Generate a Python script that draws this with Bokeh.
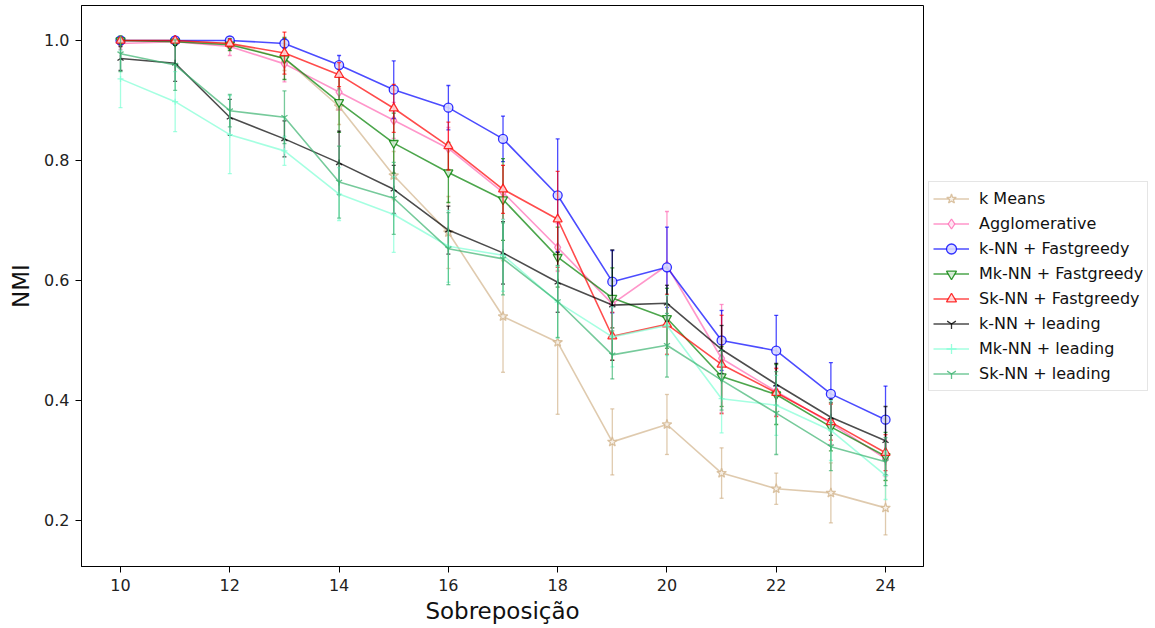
import math
from bokeh.plotting import figure
from bokeh.models import Range1d, FixedTicker, PrintfTickFormatter, Legend, LegendItem
from bokeh.embed import file_html
from bokeh.resources import INLINE

# ---------------- data ----------------
overlap = [10, 11, 12, 13, 14, 15, 16, 17, 18, 19, 20, 21, 22, 23, 24]

kmeans = [1.0, 1.0, 0.995, 0.97, 0.89, 0.775, 0.68, 0.54, 0.497, 0.331, 0.36, 0.279, 0.253, 0.246, 0.221]
kmeans_err = [0.0, 0.003, 0.008, 0.02, 0.03, 0.04, 0.06, 0.093, 0.12, 0.055, 0.05, 0.042, 0.026, 0.05, 0.045]

agglo = [0.995, 0.998, 0.99, 0.961, 0.914, 0.867, 0.82, 0.747, 0.655, 0.561, 0.625, 0.47, 0.415, 0.362, 0.303]
agglo_err = [0.01, 0.005, 0.015, 0.03, 0.03, 0.03, 0.035, 0.045, 0.04, 0.04, 0.09, 0.09, 0.04, 0.035, 0.03]

knn_fg = [1.0, 1.0, 1.0, 0.995, 0.959, 0.918, 0.888, 0.836, 0.742, 0.598, 0.622, 0.50, 0.483, 0.411, 0.368]
knn_fg_err = [0.002, 0.002, 0.003, 0.008, 0.016, 0.048, 0.037, 0.038, 0.094, 0.052, 0.067, 0.05, 0.059, 0.052, 0.056]

mknn_fg = [1.0, 0.998, 0.993, 0.97, 0.897, 0.829, 0.78, 0.735, 0.639, 0.571, 0.537, 0.44, 0.41, 0.356, 0.307]
mknn_fg_err = [0.003, 0.005, 0.01, 0.035, 0.05, 0.05, 0.05, 0.068, 0.05, 0.05, 0.05, 0.05, 0.05, 0.04, 0.04]

sknn_fg = [1.0, 1.0, 0.995, 0.979, 0.943, 0.887, 0.824, 0.752, 0.702, 0.507, 0.527, 0.46, 0.413, 0.364, 0.313]
sknn_fg_err = [0.002, 0.003, 0.006, 0.035, 0.02, 0.04, 0.04, 0.04, 0.08, 0.04, 0.05, 0.082, 0.04, 0.03, 0.03]

knn_lead = [0.97, 0.962, 0.872, 0.836, 0.796, 0.752, 0.684, 0.646, 0.597, 0.559, 0.562, 0.485, 0.427, 0.372, 0.333]
knn_lead_err = [0.02, 0.03, 0.03, 0.03, 0.053, 0.04, 0.04, 0.052, 0.05, 0.092, 0.03, 0.04, 0.035, 0.03, 0.057]

mknn_lead = [0.936, 0.898, 0.843, 0.816, 0.744, 0.71, 0.657, 0.642, 0.564, 0.506, 0.525, 0.403, 0.392, 0.35, 0.275]
mknn_lead_err = [0.048, 0.05, 0.065, 0.024, 0.044, 0.063, 0.06, 0.06, 0.06, 0.05, 0.05, 0.057, 0.05, 0.05, 0.04]

sknn_lead = [0.978, 0.959, 0.883, 0.872, 0.764, 0.737, 0.653, 0.636, 0.565, 0.476, 0.492, 0.434, 0.379, 0.323, 0.298]
sknn_lead_err = [0.03, 0.042, 0.027, 0.044, 0.06, 0.06, 0.06, 0.06, 0.06, 0.04, 0.053, 0.05, 0.069, 0.04, 0.04]

labels = ["k Means", "Agglomerative", "k-NN + Fastgreedy", "Mk-NN + Fastgreedy",
          "Sk-NN + Fastgreedy", "k-NN + leading", "Mk-NN + leading", "Sk-NN + leading"]
values = [kmeans, agglo, knn_fg, mknn_fg, sknn_fg, knn_lead, mknn_lead, sknn_lead]
errors = [kmeans_err, agglo_err, knn_fg_err, mknn_fg_err, sknn_fg_err, knn_lead_err, mknn_lead_err, sknn_lead_err]

x_ticks = [10, 12, 14, 16, 18, 20, 22, 24]
y_ticks = [0.2, 0.4, 0.6, 0.8, 1.0]

# ---------------- styles ----------------
colors = ["#d2b48c", "#ff69b4", "#0000ff", "#008000", "#ff0000", "#000000", "#7fffd4", "#3cb371"]
markers = ["star", "diamond", "circle", "inverted_triangle", "triangle", "y", "cross", "y"]
msizes = [10, 9, 9, 9, 9, 7, 6, 7]
mangles = [0, 0, 0, 0, 0, math.pi, 0, 0]
ALPHA = 0.7
FONT = "DejaVu Sans"


def tint(hexcol, f=0.15):
    h = hexcol.lstrip("#")
    r, g, b = int(h[0:2], 16), int(h[2:4], 16), int(h[4:6], 16)
    r = round(255 - (255 - r) * f)
    g = round(255 - (255 - g) * f)
    b = round(255 - (255 - b) * f)
    return "#%02x%02x%02x" % (r, g, b)


p = figure(frame_width=842, frame_height=561,
           min_border_left=81, min_border_right=232, min_border_top=5, min_border_bottom=62,
           x_range=Range1d(9.286, 24.695), y_range=Range1d(0.1233, 1.0583),
           output_backend="svg", toolbar_location=None)

p.xgrid.visible = False
p.ygrid.visible = False
p.outline_line_color = "black"
p.outline_line_width = 1
p.outline_line_alpha = 1
p.background_fill_color = "white"
p.border_fill_color = "white"

p.xaxis.ticker = FixedTicker(ticks=x_ticks)
p.yaxis.ticker = FixedTicker(ticks=y_ticks)
p.xaxis.formatter = PrintfTickFormatter(format="%d")
p.yaxis.formatter = PrintfTickFormatter(format="%.1f")
for ax in (p.xaxis, p.yaxis):
    ax.major_label_text_font = FONT
    ax.major_label_text_font_size = "16px"
    ax.major_label_text_color = "#222222"
    ax.axis_label_text_font = FONT
    ax.axis_label_text_font_style = "normal"
    ax.axis_label_text_font_size = "23px"
    ax.axis_label_text_color = "#111111"
    ax.axis_line_color = "black"
    ax.major_tick_line_color = "black"
    ax.major_tick_out = 6
    ax.major_tick_in = 0
    ax.minor_tick_line_color = None
    ax.major_label_standoff = 6
p.xaxis.axis_label = "Sobreposição"
p.yaxis.axis_label = "NMI"
p.xaxis.axis_label_standoff = 4
p.yaxis.axis_label_standoff = 7

items = []
for lab, ys, es, col, mk, ms, ang in zip(labels, values, errors, colors, markers, msizes, mangles):
    lo = [y - e for y, e in zip(ys, es)]
    hi = [y + e for y, e in zip(ys, es)]
    p.segment(x0=overlap, y0=lo, x1=overlap, y1=hi, line_color=col, line_alpha=ALPHA, line_width=1.3)
    p.scatter(x=overlap + overlap, y=lo + hi, marker="dash", size=4,
              line_color=col, line_alpha=ALPHA, line_width=1.3)
    lr = p.line(x=overlap, y=ys, line_color=col, line_alpha=ALPHA, line_width=1.6)
    mr = p.scatter(x=overlap, y=ys, marker=mk, size=ms, angle=ang,
                   line_color=col, line_alpha=0.8, line_width=1.3,
                   fill_color=tint(col), fill_alpha=0.9)
    items.append(LegendItem(label=lab, renderers=[lr, mr]))

legend = Legend(items=items, location="center_left")
legend.label_text_font = FONT
legend.label_text_font_size = "16px"
legend.label_text_color = "#111111"
legend.glyph_width = 36
legend.glyph_height = 25
legend.label_height = 25
legend.spacing = 0
legend.padding = 4
legend.margin = 5
legend.label_standoff = 10
legend.border_line_color = "#cccccc"
legend.border_line_width = 1
legend.background_fill_alpha = 0.9
p.add_layout(legend, "right")

open("out.html", "w").write(file_html(p, INLINE))
